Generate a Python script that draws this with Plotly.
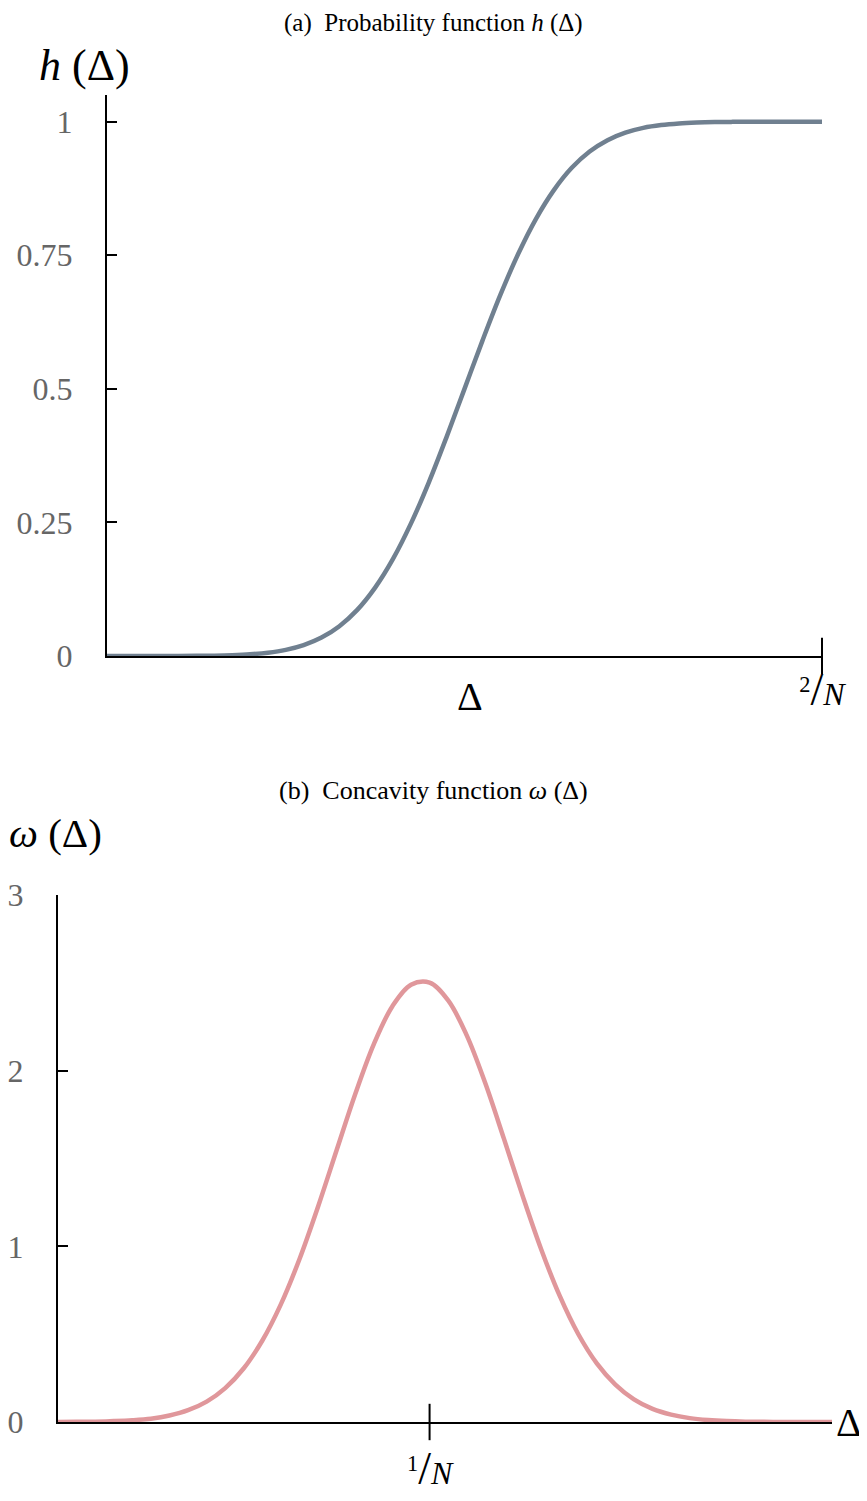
import plotly.graph_objects as go

# (a) probability function h(Δ), x in units of 1/N
h_x = [0.00, 0.05, 0.10, 0.15, 0.20, 0.25, 0.30, 0.35, 0.40, 0.45,
       0.50, 0.55, 0.60, 0.65, 0.70, 0.75, 0.80, 0.85, 0.90, 0.95,
       1.00, 1.05, 1.10, 1.15, 1.20, 1.25, 1.30, 1.35, 1.40, 1.45,
       1.50, 1.55, 1.60, 1.65, 1.70, 1.75, 1.80, 1.85, 1.90, 1.95, 2.00]
h_y = [0.0, 0.0, 0.0, 0.0001, 0.0001, 0.0003, 0.0007, 0.0016, 0.0032, 0.0062,
       0.0115, 0.0204, 0.0345, 0.0558, 0.0863, 0.128, 0.1817, 0.2477, 0.3247, 0.4102,
       0.5, 0.5898, 0.6753, 0.7523, 0.8183, 0.872, 0.9137, 0.9442, 0.9655, 0.9796,
       0.9885, 0.9938, 0.9968, 0.9984, 0.9993, 0.9997, 0.9999, 1.0, 1.0, 1.0, 1.0]

# (b) concavity function ω(Δ)
w_x = [0.00, 0.05, 0.10, 0.15, 0.20, 0.25, 0.30, 0.35, 0.40, 0.45,
       0.50, 0.55, 0.60, 0.65, 0.70, 0.75, 0.80, 0.85, 0.90, 0.95,
       1.00, 1.05, 1.10, 1.15, 1.20, 1.25, 1.30, 1.35, 1.40, 1.45,
       1.50, 1.55, 1.60, 1.65, 1.70, 1.75, 1.80, 1.85, 1.90, 1.95,
       2.00, 2.083]
w_y = [0.0, 0.001, 0.002, 0.005, 0.010, 0.019, 0.037, 0.067, 0.116, 0.193,
       0.306, 0.464, 0.671, 0.928, 1.227, 1.548, 1.867, 2.151, 2.367, 2.489,
       2.501, 2.400, 2.201, 1.928, 1.613, 1.290, 0.985, 0.719, 0.501, 0.334,
       0.213, 0.129, 0.075, 0.042, 0.022, 0.011, 0.005, 0.002, 0.001, 0.0,
       0.0, 0.0]

h_yticks = [0, 0.25, 0.5, 0.75, 1]
h_yticktext = ["0", "0.25", "0.5", "0.75", "1"]
w_yticks = [0, 1, 2, 3]
h_xtick = [2]
h_xticktext = ["<sup>2</sup><span style='font-size:46px'>/</span><i>N</i>"]
w_xtick = [1]
w_xticktext = ["<sup>1</sup><span style='font-size:46px'>/</span><i>N</i>"]

FONT = "Liberation Serif"
GREY = "#666666"
W, H = 859, 1493   # page body keeps an 8px margin


def px(v):
    return v / W


def py(v):
    return 1 - v / H


fig = go.Figure()

fig.add_trace(go.Scatter(x=h_x, y=h_y, mode="lines", line=dict(color="#708090", width=4.5, shape="spline"),
                         xaxis="x", yaxis="y", cliponaxis=False))
fig.add_trace(go.Scatter(x=w_x, y=w_y, mode="lines", line=dict(color="#e0979b", width=4.5, shape="spline"),
                         xaxis="x2", yaxis="y2", cliponaxis=False))

# crossing ticks on the x axes
fig.add_trace(go.Scatter(x=h_xtick, y=[0] * len(h_xtick), mode="markers", xaxis="x", yaxis="y",
                         marker=dict(symbol="line-ns", size=26, line=dict(color="black", width=2)),
                         cliponaxis=False))
fig.add_trace(go.Scatter(x=w_xtick, y=[0] * len(w_xtick), mode="markers", xaxis="x2", yaxis="y2",
                         marker=dict(symbol="line-ns", size=26, line=dict(color="black", width=2)),
                         cliponaxis=False))

axis_common = dict(showgrid=False, zeroline=False, showline=True, linecolor="black", linewidth=2,
                   automargin=False)

fig.update_layout(
    width=W, height=H,
    margin=dict(l=0, r=0, t=0, b=0),
    paper_bgcolor="white", plot_bgcolor="white",
    showlegend=False,
    font=dict(family=FONT, color="black"),
    xaxis=dict(domain=[px(99), px(814)], range=[0, 2], anchor="y",
               tickvals=h_xtick, ticktext=h_xticktext, ticks="",
               tickfont=dict(size=32, color="black"), ticklabelstandoff=9,
               **axis_common),
    yaxis=dict(domain=[py(648), py(87)], range=[0, 1.05], anchor="x",
               tickvals=h_yticks, ticktext=h_yticktext,
               ticks="inside", ticklen=10, tickwidth=2, tickcolor="black",
               tickfont=dict(size=32, color=GREY), ticklabelstandoff=26,
               **axis_common),
    xaxis2=dict(domain=[px(50), px(824)], range=[0, 2.083], anchor="y2",
                tickvals=w_xtick, ticktext=w_xticktext, ticks="",
                tickfont=dict(size=32, color="black"), ticklabelstandoff=22,
                **axis_common),
    yaxis2=dict(domain=[py(1414), py(887)], range=[0, 3], anchor="x2",
                tickvals=w_yticks,
                ticks="inside", ticklen=10, tickwidth=2, tickcolor="black",
                tickfont=dict(size=32, color=GREY), ticklabelstandoff=26,
                **axis_common),
)

fig.add_annotation(text="(a)  Probability function <i>h</i> (Δ)", xref="paper", yref="paper",
                   x=px(425), y=py(0), xanchor="center", yanchor="top", borderpad=0,
                   showarrow=False, font=dict(size=25))
fig.add_annotation(text="(b)  Concavity function <i>ω</i> (Δ)", xref="paper", yref="paper",
                   x=px(425), y=py(783), xanchor="center", yanchor="middle",
                   showarrow=False, font=dict(size=26))
fig.add_annotation(text="<i>h</i> (Δ)", xref="paper", yref="paper",
                   x=px(76), y=py(57), xanchor="center", yanchor="middle",
                   showarrow=False, font=dict(size=44))
fig.add_annotation(text="<i>ω</i> (Δ)", xref="paper", yref="paper",
                   x=px(0), y=py(825), xanchor="left", yanchor="middle", borderpad=0,
                   showarrow=False, font=dict(size=41))
fig.add_annotation(text="Δ", xref="x", yref="y", x=1.015, y=0, xanchor="center", yanchor="middle",
                   yshift=-40, showarrow=False, font=dict(size=40))
fig.add_annotation(text="Δ", xref="x2", yref="y2", x=2.083, y=0, xanchor="left", yanchor="middle",
                   xshift=2, showarrow=False, font=dict(size=40))

fig.write_html("out.html")
